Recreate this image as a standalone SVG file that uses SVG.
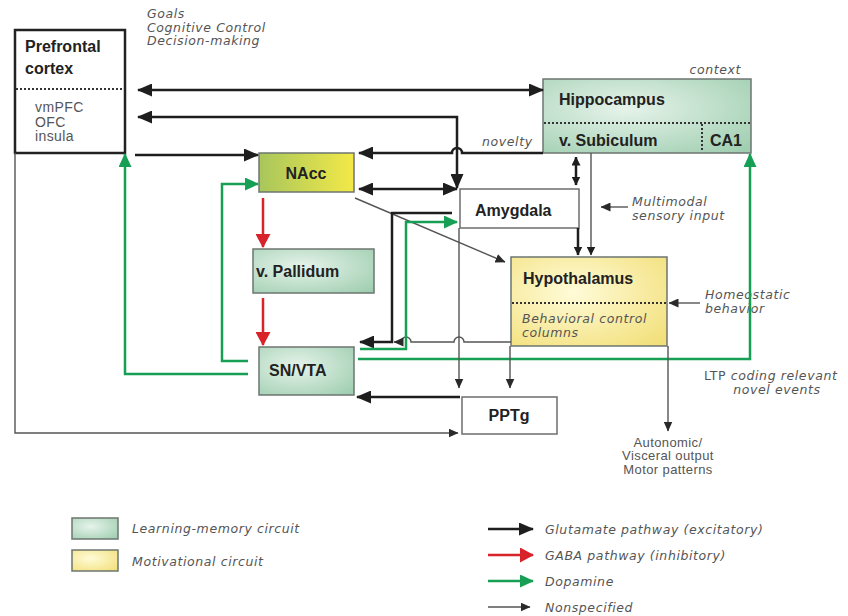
<svg xmlns="http://www.w3.org/2000/svg" width="848" height="616" viewBox="0 0 848 616">
<defs>
  <radialGradient id="gGreen" cx="0.4" cy="0.4" r="0.8">
    <stop offset="0" stop-color="#e6f3ea"/>
    <stop offset="1" stop-color="#9fceb0"/>
  </radialGradient>
  <radialGradient id="gYellow" cx="0.4" cy="0.4" r="0.8">
    <stop offset="0" stop-color="#fffbd8"/>
    <stop offset="1" stop-color="#f2df78"/>
  </radialGradient>
  <linearGradient id="gNacc" x1="0" y1="0" x2="1" y2="0">
    <stop offset="0" stop-color="#a8c65c"/>
    <stop offset="1" stop-color="#f3e948"/>
  </linearGradient>
  <marker id="mGlu" markerUnits="userSpaceOnUse" markerWidth="15" markerHeight="13" refX="14" refY="6.5" orient="auto-start-reverse">
    <path d="M0,0 L15,6.5 L0,13 z" fill="#1e1e1e"/>
  </marker>
  <marker id="mNs" markerUnits="userSpaceOnUse" markerWidth="10" markerHeight="9" refX="9.5" refY="4.5" orient="auto-start-reverse">
    <path d="M0,0 L10,4.5 L0,9 z" fill="#2a2a2a"/>
  </marker>
  <marker id="mSm" markerUnits="userSpaceOnUse" markerWidth="9" markerHeight="9" refX="8.5" refY="4.5" orient="auto-start-reverse">
    <path d="M0,0 L9,4.5 L0,9 z" fill="#1e1e1e"/>
  </marker>
  <marker id="mRed" markerUnits="userSpaceOnUse" markerWidth="14" markerHeight="15" refX="13" refY="7.5" orient="auto">
    <path d="M0,0 L14,7.5 L0,15 z" fill="#d8232a"/>
  </marker>
  <marker id="mGrn" markerUnits="userSpaceOnUse" markerWidth="14" markerHeight="13" refX="13" refY="6.5" orient="auto">
    <path d="M0,0 L14,6.5 L0,13 z" fill="#17a055"/>
  </marker>
</defs>
<style>
  .lbl { font-family: "Liberation Sans", Arial, sans-serif; font-weight: bold; font-size: 16px; fill: #222; }
  .cap { font-family: "DejaVu Sans", "Liberation Sans", sans-serif; font-style: italic; font-size: 12.5px; letter-spacing: 0.6px; fill: #555; }
  .reg { font-family: "Liberation Sans", Arial, sans-serif; font-size: 14px; letter-spacing: 0.4px; fill: #555; }
  .out { font-family: "Liberation Sans", Arial, sans-serif; font-size: 13px; letter-spacing: 0.4px; fill: #555; }
  .box { stroke: #6d7570; stroke-width: 1.5; }
  .wbox { fill: #fff; stroke: #6d6d6d; stroke-width: 1.5; }
  .dot { stroke: #333; stroke-width: 2; stroke-dasharray: 2 2; fill: none; }
  .glu { fill: none; stroke: #1e1e1e; stroke-width: 2.5; }
  .ns { fill: none; stroke: #555; stroke-width: 1.4; }
  .gaba { fill: none; stroke: #d8232a; stroke-width: 2.5; }
  .da { fill: none; stroke: #17a055; stroke-width: 2.5; }
</style>

<!-- Nodes -->
<g id="prefrontal">
  <rect x="15" y="30" width="110" height="123" fill="#fff" stroke="#222" stroke-width="2.5"/>
  <line x1="16" y1="89" x2="124" y2="89" class="dot"/>
  <text x="25" y="52" class="lbl">Prefrontal</text>
  <text x="25" y="74" class="lbl">cortex</text>
  <text x="35" y="112" class="reg">vmPFC</text>
  <text x="35" y="126.5" class="reg">OFC</text>
  <text x="35" y="141" class="reg">insula</text>
</g>
<g id="pfc-notes">
  <text x="147" y="18" class="cap">Goals</text>
  <text x="147" y="31.5" class="cap">Cognitive Control</text>
  <text x="147" y="45" class="cap">Decision-making</text>
</g>
<g id="hippocampus">
  <rect x="543" y="79" width="208" height="74" fill="url(#gGreen)" class="box"/>
  <line x1="544" y1="123" x2="750" y2="123" class="dot"/>
  <line x1="702" y1="124" x2="702" y2="152" class="dot"/>
  <text x="559" y="105" class="lbl">Hippocampus</text>
  <text x="559" y="146" class="lbl">v. Subiculum</text>
  <text x="710" y="146" class="lbl">CA1</text>
  <text x="741" y="74" class="cap" text-anchor="end">context</text>
</g>
<g id="nacc">
  <rect x="259" y="153" width="95" height="39" fill="url(#gNacc)" class="box"/>
  <text x="306" y="179" class="lbl" text-anchor="middle">NAcc</text>
</g>
<g id="amygdala">
  <rect x="460" y="189" width="119" height="39" class="wbox"/>
  <text x="475" y="216" class="lbl">Amygdala</text>
</g>
<g id="pallidum">
  <rect x="253" y="249" width="121" height="44" fill="url(#gGreen)" class="box"/>
  <text x="256" y="277" class="lbl">v. Pallidum</text>
</g>
<g id="hypothalamus">
  <rect x="511" y="257" width="156" height="89" fill="url(#gYellow)" class="box"/>
  <line x1="512" y1="303" x2="666" y2="303" class="dot"/>
  <text x="523" y="284" class="lbl">Hypothalamus</text>
  <text x="522" y="323" class="cap">Behavioral control</text>
  <text x="522" y="337" class="cap">columns</text>
</g>
<g id="snvta">
  <rect x="259" y="347" width="95" height="48" fill="url(#gGreen)" class="box"/>
  <text x="269" y="376" class="lbl">SN/VTA</text>
</g>
<g id="pptg">
  <rect x="462" y="397" width="95" height="37" class="wbox"/>
  <text x="509" y="421" class="lbl" text-anchor="middle">PPTg</text>
</g>
<g id="annotations">
  <text x="482" y="146" class="cap">novelty</text>
  <text x="632" y="206" class="cap">Multimodal</text>
  <text x="632" y="220" class="cap">sensory input</text>
  <text x="705" y="299" class="cap">Homeostatic</text>
  <text x="705" y="313" class="cap">behavior</text>
  <text x="704" y="380" class="cap"><tspan font-style="normal">LTP</tspan> coding relevant</text>
  <text x="777" y="394" class="cap" text-anchor="middle">novel events</text>
  <text x="668" y="446.5" class="out" text-anchor="middle">Autonomic/</text>
  <text x="668" y="460" class="out" text-anchor="middle">Visceral output</text>
  <text x="668" y="473.5" class="out" text-anchor="middle">Motor patterns</text>
</g>

<!-- Connectors -->
<g id="connectors">
  <path d="M138,90 H543" class="glu" marker-start="url(#mGlu)" marker-end="url(#mGlu)"/>
  <path d="M138,117 H457 V188" class="glu" marker-start="url(#mGlu)" marker-end="url(#mGlu)"/>
  <path d="M135,155 H258" class="glu" marker-end="url(#mGlu)"/>
  <path d="M543,153 H462 A5,5 0 0 0 452,153 H359" class="glu" marker-end="url(#mGlu)"/>
  <path d="M359,189 H457" class="glu" marker-start="url(#mGlu)" marker-end="url(#mGlu)"/>
  <path d="M576,157 V185" class="glu" marker-start="url(#mSm)" marker-end="url(#mSm)"/>
  <path d="M591,153 V255" class="ns" marker-end="url(#mSm)"/>
  <path d="M578,228 V255" class="glu" marker-end="url(#mSm)"/>
  <path d="M628,207 H601" class="ns" marker-end="url(#mNs)"/>
  <path d="M700,303 H669" class="ns" marker-end="url(#mNs)"/>
  <path d="M355,198 L505,262" class="ns" marker-end="url(#mNs)"/>
  <path d="M263,198 V247" class="gaba" marker-end="url(#mRed)"/>
  <path d="M263,298 V345" class="gaba" marker-end="url(#mRed)"/>
  <path d="M452,213 H392 V342 H360" class="glu" marker-end="url(#mGlu)"/>
  <path d="M511,342 H464 A5,5 0 0 0 454,342 H411 A5,5 0 0 0 401,342 H394" class="ns" marker-end="url(#mNs)"/>
  <path d="M360,349 H406 V222 H457" class="da" marker-end="url(#mGrn)"/>
  <path d="M358,359 H750 V154" class="da" marker-end="url(#mGrn)"/>
  <path d="M248,361 H222 V184 H258" class="da" marker-end="url(#mGrn)"/>
  <path d="M248,374 H125 V154" class="da" marker-end="url(#mGrn)"/>
  <path d="M459,228 V388" class="ns" marker-end="url(#mNs)"/>
  <path d="M510,346 V388" class="ns" marker-end="url(#mNs)"/>
  <path d="M460,397 H357" class="glu" marker-end="url(#mGlu)"/>
  <path d="M15,153 V433 H458" class="ns" marker-end="url(#mNs)"/>
  <path d="M668,346 V431" class="ns" marker-end="url(#mNs)"/>
</g>

<!-- Legend -->
<g id="legend">
  <rect x="72" y="518" width="46" height="21" fill="url(#gGreen)" class="box"/>
  <text x="132" y="533" class="cap">Learning-memory circuit</text>
  <rect x="72" y="550" width="46" height="21" fill="url(#gYellow)" class="box"/>
  <text x="132" y="566" class="cap">Motivational circuit</text>
  <path d="M488,529 H533" class="glu" marker-end="url(#mGlu)"/>
  <text x="545" y="534" class="cap">Glutamate pathway (excitatory)</text>
  <path d="M488,555 H533" class="gaba" marker-end="url(#mRed)"/>
  <text x="545" y="560" class="cap">GABA pathway (inhibitory)</text>
  <path d="M488,581 H533" class="da" marker-end="url(#mGrn)"/>
  <text x="545" y="586" class="cap">Dopamine</text>
  <path d="M488,607 H530" class="ns" stroke="#222" stroke-width="1.6" marker-end="url(#mNs)"/>
  <text x="545" y="612" class="cap">Nonspecified</text>
</g>
</svg>
